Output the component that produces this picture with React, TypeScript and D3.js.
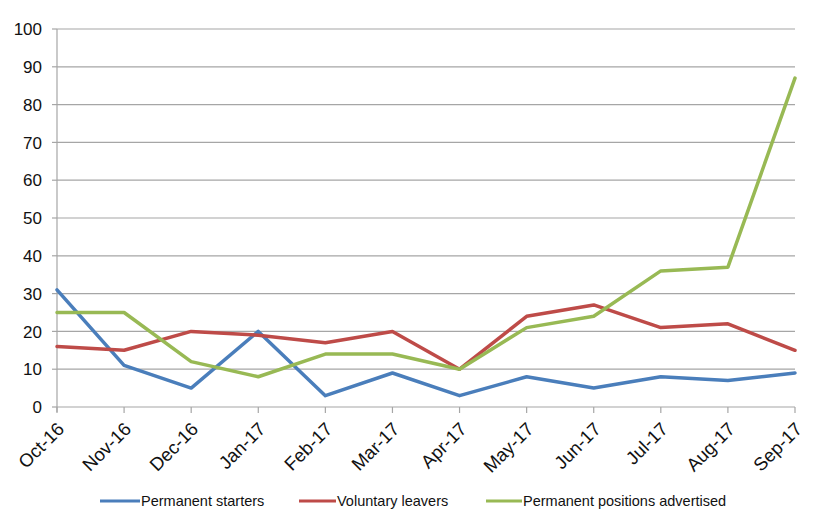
import React from "react";
import * as d3 from "d3";

const months = ["Oct-16", "Nov-16", "Dec-16", "Jan-17", "Feb-17", "Mar-17", "Apr-17", "May-17", "Jun-17", "Jul-17", "Aug-17", "Sep-17"];
const permanentStarters = [31, 11, 5, 20, 3, 9, 3, 8, 5, 8, 7, 9];
const voluntaryLeavers = [16, 15, 20, 19, 17, 20, 10, 24, 27, 21, 22, 15];
const positionsAdvertised = [25, 25, 12, 8, 14, 14, 10, 21, 24, 36, 37, 87];
const yTicks = [0, 10, 20, 30, 40, 50, 60, 70, 80, 90, 100];

const series = [
  { name: "Permanent starters", values: permanentStarters, color: "#4A7EBB" },
  { name: "Voluntary leavers", values: voluntaryLeavers, color: "#BE4B48" },
  { name: "Permanent positions advertised", values: positionsAdvertised, color: "#98B954" },
];

const legendLayout = [
  { x1: 100, x2: 140, tx: 141 },
  { x1: 299, x2: 336, tx: 337 },
  { x1: 486, x2: 522, tx: 523 },
];

const W = 817;
const H = 518;
const left = 57;
const right = 795;
const top = 29;
const bottom = 407;
const font = "Arial, 'Liberation Sans', sans-serif";

export default function App() {
  const x = d3.scalePoint<string>().domain(months).range([left, right]);
  const y = d3.scaleLinear().domain([0, 100]).range([bottom, top]);
  const line = d3
    .line<number>()
    .x((_, i) => x(months[i]) as number)
    .y((d) => y(d));

  return (
    <svg
      width={W}
      height={H}
      style={{ position: "absolute", left: 0, top: 0, background: "#fff" }}
      fontFamily={font}
    >
      {/* horizontal gridlines and value axis labels */}
      {yTicks.map((t) => (
        <g key={t}>
          {t > 0 && (
            <line x1={left} x2={right} y1={y(t)} y2={y(t)} stroke="#a6a6a6" strokeWidth={1.2} />
          )}
          <line x1={left - 5} x2={left} y1={y(t)} y2={y(t)} stroke="#a6a6a6" strokeWidth={1.2} />
          <text x={42} y={y(t)} dy="0.36em" textAnchor="end" fontSize={17} fill="#111">
            {t}
          </text>
        </g>
      ))}
      {/* axes */}
      <line x1={left} x2={left} y1={top} y2={bottom + 5} stroke="#a6a6a6" strokeWidth={1.2} />
      <line x1={left} x2={right} y1={bottom} y2={bottom} stroke="#a6a6a6" strokeWidth={1.2} />
      {months.map((m) => {
        const px = x(m) as number;
        return (
          <g key={m}>
            <line x1={px} x2={px} y1={bottom} y2={bottom + 6} stroke="#a6a6a6" strokeWidth={1.2} />
            <text
              transform={`translate(${px - 1},${bottom + 14}) rotate(-45)`}
              textAnchor="end"
              dy={13}
              fontSize={18.5}
              fill="#111"
            >
              {m}
            </text>
          </g>
        );
      })}
      {/* series lines */}
      {series.map((s) => (
        <path
          key={s.name}
          d={line(s.values) ?? ""}
          fill="none"
          stroke={s.color}
          strokeWidth={3.5}
          strokeLinejoin="round"
          strokeLinecap="round"
        />
      ))}
      {/* legend */}
      {series.map((s, i) => (
        <g key={s.name}>
          <line
            x1={legendLayout[i].x1}
            x2={legendLayout[i].x2}
            y1={501}
            y2={501}
            stroke={s.color}
            strokeWidth={3}
          />
          <text x={legendLayout[i].tx} y={506} fontSize={14.5} fill="#111">
            {s.name}
          </text>
        </g>
      ))}
    </svg>
  );
}
